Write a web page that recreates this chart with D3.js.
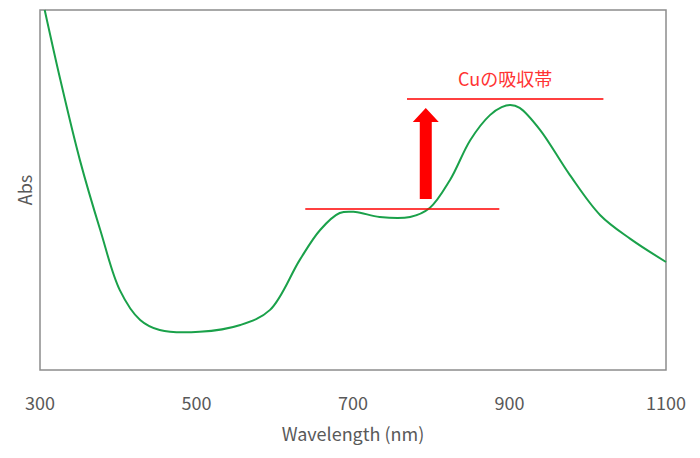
<!DOCTYPE html>
<html><head><meta charset="utf-8">
<script src="https://cdn.jsdelivr.net/npm/d3@7"></script>
<style>body{margin:0;background:#fff}text{font-family:"Noto Sans CJK JP","Open Sans",sans-serif}</style>
</head><body><svg id="c" width="700" height="458"></svg>
<script>
// spectrum
var wavelength = [306,326,351,377,402,428,453,504,556,594,632,658,683,703,734,773,798,824,850,875,890,901,913,939,977,1016,1054,1100];
var absorbance = [1.0,0.806,0.583,0.389,0.222,0.139,0.111,0.106,0.125,0.167,0.306,0.389,0.436,0.439,0.425,0.425,0.45,0.528,0.639,0.708,0.73,0.736,0.728,0.667,0.542,0.43,0.365,0.300];
var xTicks = [300,500,700,900,1100];
var levels = [{from:639,to:887,abs:0.447},{from:769,to:1020,abs:0.753}];
var arrowAt = 793;
var label = "Cuの吸収帯";

var svg = d3.select('#c');
var x = d3.scaleLinear().domain([300,1100]).range([40,666]);
var y = d3.scaleLinear().domain([0,1]).range([370,10]);

svg.append('rect').attr('x',40).attr('y',10).attr('width',626).attr('height',360)
  .attr('fill','none').attr('stroke','#8c8c8c').attr('stroke-width',1.5);

svg.selectAll('.tk').data(xTicks).enter().append('text')
  .attr('x',d=>x(d)).attr('y',410).attr('text-anchor','middle')
  .attr('font-size',18).attr('fill','#595959').text(d=>d);
svg.append('text').attr('x',353).attr('y',441).attr('text-anchor','middle')
  .attr('font-size',18).attr('fill','#595959').text('Wavelength (nm)');
svg.append('text').attr('transform','translate(32,190) rotate(-90)').attr('text-anchor','middle')
  .attr('font-size',18).attr('fill','#595959').text('Abs');

var pts = wavelength.map((d,i)=>[d,absorbance[i]]);
svg.append('path').datum(pts)
  .attr('d',d3.line().x(d=>x(d[0])).y(d=>y(d[1])).curve(d3.curveCatmullRom.alpha(0.5)))
  .attr('fill','none').attr('stroke','#1aa14a').attr('stroke-width',2);

svg.selectAll('.lv').data(levels).enter().append('line')
  .attr('x1',d=>x(d.from)).attr('x2',d=>x(d.to)).attr('y1',d=>y(d.abs)).attr('y2',d=>y(d.abs))
  .attr('stroke','#ff0000').attr('stroke-width',1.5);

var ax = x(arrowAt), yb = y(levels[0].abs)-10, yt = y(levels[1].abs)+9;
svg.append('path')
  .attr('d','M'+(ax-6)+','+yb+'V'+(yt+14)+'H'+(ax-13)+'L'+ax+','+yt+'L'+(ax+13)+','+(yt+14)+'H'+(ax+6)+'V'+yb+'Z')
  .attr('fill','#ff0000');

svg.append('text').attr('x',(x(levels[1].from)+x(levels[1].to))/2).attr('y',86)
  .attr('text-anchor','middle').attr('font-size',18).attr('fill','#ff3333').text(label);
</script></body></html>
